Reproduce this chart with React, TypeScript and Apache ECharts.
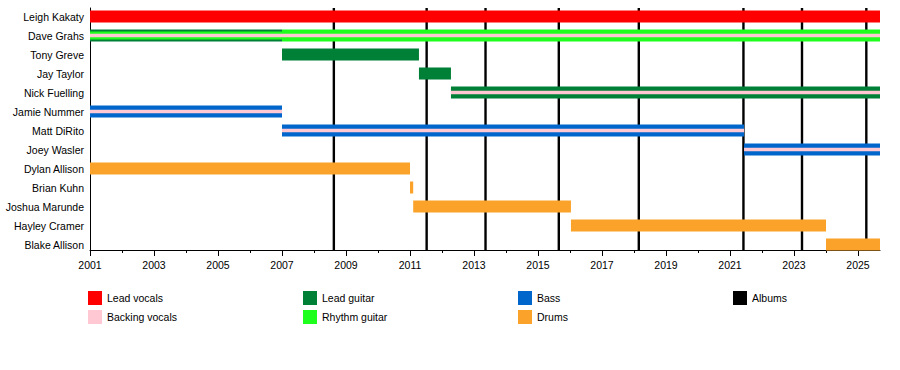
import React, { useEffect, useRef } from "react";
import * as echarts from "echarts";

const START = 2001;
const END = 2025.6875;

const members = [
  "Leigh Kakaty",
  "Dave Grahs",
  "Tony Greve",
  "Jay Taylor",
  "Nick Fuelling",
  "Jamie Nummer",
  "Matt DiRito",
  "Joey Wasler",
  "Dylan Allison",
  "Brian Kuhn",
  "Joshua Marunde",
  "Hayley Cramer",
  "Blake Allison",
];

// [member index, from, to]
const leadVocals = [[0, 2001, END]];
const leadGuitar = [
  [1, 2001, 2007],
  [2, 2007, 2011.28],
  [3, 2011.28, 2012.28],
  [4, 2012.28, END],
];
const rhythmGuitar = [[1, 2007, END]];
const rhythmGuitarSecondary = [[1, 2001, 2007]];
const bass = [
  [5, 2001, 2007],
  [6, 2007, 2021.44],
  [7, 2021.44, END],
];
const drums = [
  [8, 2001, 2011.0],
  [9, 2011.0, 2011.1],
  [10, 2011.1, 2016.03],
  [11, 2016.03, 2024.0],
  [12, 2024.0, END],
];
const backingVocals = [
  [1, 2001, END],
  [4, 2012.28, END],
  [5, 2001, 2007],
  [6, 2007, 2021.44],
  [7, 2021.44, END],
];
const albums = [2008.62, 2011.52, 2013.36, 2015.65, 2018.15, 2021.42, 2023.25, 2025.26];

const labelYears = [2001, 2003, 2005, 2007, 2009, 2011, 2013, 2015, 2017, 2019, 2021, 2023, 2025];
const minorYears = [2002, 2004, 2006, 2008, 2010, 2012, 2014, 2016, 2018, 2020, 2022, 2024];

const COLORS = {
  leadVocals: "#ff0000",
  backingVocals: "#ffc8d2",
  leadGuitar: "#007f36",
  rhythmGuitar: "#1eff1e",
  bass: "#0066cc",
  drums: "#fba22a",
  albums: "#000000",
};

const FONT = "Liberation Sans, Arial, sans-serif";
const FS = 10.5;

function barSeries(name: string, data: number[][], color: string, h: number, z: number) {
  return {
    type: "custom",
    name,
    xAxisIndex: 0,
    yAxisIndex: 0,
    z,
    itemStyle: { color },
    encode: { x: [1, 2], y: 0 },
    data,
    renderItem: (params: any, api: any) => {
      const row = api.value(0);
      const p0 = api.coord([api.value(1), row]);
      const p1 = api.coord([api.value(2), row]);
      return {
        type: "rect",
        shape: { x: p0[0], y: p0[1] - h / 2, width: p1[0] - p0[0], height: h },
        style: { fill: color },
      };
    },
  };
}

export default function App() {
  const ref = useRef<HTMLDivElement>(null);
  useEffect(() => {
    if (!ref.current) return;
    const chart = echarts.init(ref.current, null, { renderer: "svg" });
    const legendCommon = {
      orient: "vertical",
      top: 291,
      padding: 0,
      itemGap: 5,
      itemWidth: 14,
      itemHeight: 14,
      icon: "rect",
      selectedMode: false,
      textStyle: { color: "#000", fontSize: FS, fontFamily: FONT },
    };
    const option: any = {
      animation: false,
      backgroundColor: "#fff",
      grid: [
        { left: 90, right: 20, top: 7, height: 247 },
        { left: 90, right: 20, top: 8, height: 242 },
      ],
      xAxis: [
        { gridIndex: 0, type: "value", min: START, max: END, show: false },
        {
          gridIndex: 1,
          type: "value",
          min: START,
          max: END,
          position: "bottom",
          axisLine: { show: true, onZero: false, lineStyle: { color: "#000", width: 1 } },
          axisTick: { show: true, customValues: labelYears, length: 6, lineStyle: { color: "#000" } },
          axisLabel: {
            customValues: labelYears,
            margin: 9,
            color: "#000",
            fontSize: FS,
            fontFamily: FONT,
            formatter: (v: number) => String(Math.round(v)),
          },
          splitLine: { show: false },
        },
        {
          gridIndex: 1,
          type: "value",
          min: START,
          max: END,
          position: "bottom",
          axisLine: { show: false, onZero: false },
          axisTick: { show: true, customValues: minorYears, length: 3, lineStyle: { color: "#000" } },
          axisLabel: { show: false },
          splitLine: { show: false },
        },
      ],
      yAxis: [
        {
          gridIndex: 0,
          type: "category",
          inverse: true,
          data: members,
          axisLine: { show: false },
          axisTick: { show: false },
          axisLabel: { margin: 6, color: "#000", fontSize: FS, fontFamily: FONT },
          splitLine: { show: false },
        },
        {
          gridIndex: 1,
          type: "value",
          min: 0,
          max: 1,
          axisLine: { show: true, onZero: false, lineStyle: { color: "#000", width: 1 } },
          axisTick: { show: false },
          axisLabel: { show: false },
          splitLine: { show: false },
        },
      ],
      legend: [
        { ...legendCommon, left: 88, data: ["Lead vocals", "Backing vocals"] },
        { ...legendCommon, left: 303, data: ["Lead guitar", "Rhythm guitar"] },
        { ...legendCommon, left: 518, data: ["Bass", "Drums"] },
        { ...legendCommon, left: 733, data: ["Albums"] },
      ],
      series: [
        {
          type: "custom",
          name: "Albums",
          xAxisIndex: 1,
          yAxisIndex: 1,
          z: 1,
          itemStyle: { color: COLORS.albums },
          encode: { x: 0 },
          data: albums.map((a) => [a]),
          renderItem: (params: any, api: any) => {
            const t = api.coord([api.value(0), 1]);
            const b = api.coord([api.value(0), 0]);
            return {
              type: "line",
              shape: { x1: t[0], y1: t[1], x2: b[0], y2: b[1] },
              style: { stroke: COLORS.albums, lineWidth: 2.4 },
            };
          },
        },
        barSeries("Lead vocals", leadVocals, COLORS.leadVocals, 12, 2),
        barSeries("Lead guitar", leadGuitar, COLORS.leadGuitar, 12, 2),
        barSeries("Rhythm guitar", rhythmGuitar, COLORS.rhythmGuitar, 12, 2),
        barSeries("Bass", bass, COLORS.bass, 12, 2),
        barSeries("Drums", drums, COLORS.drums, 12, 2),
        barSeries("Rhythm guitar", rhythmGuitarSecondary, COLORS.rhythmGuitar, 8, 3),
        barSeries("Backing vocals", backingVocals, COLORS.backingVocals, 3.6, 4),
      ],
    };
    chart.setOption(option);
    return () => chart.dispose();
  }, []);
  return (
    <div
      ref={ref}
      style={{ position: "fixed", left: 0, top: 0, width: 900, height: 370, background: "#fff" }}
    />
  );
}
